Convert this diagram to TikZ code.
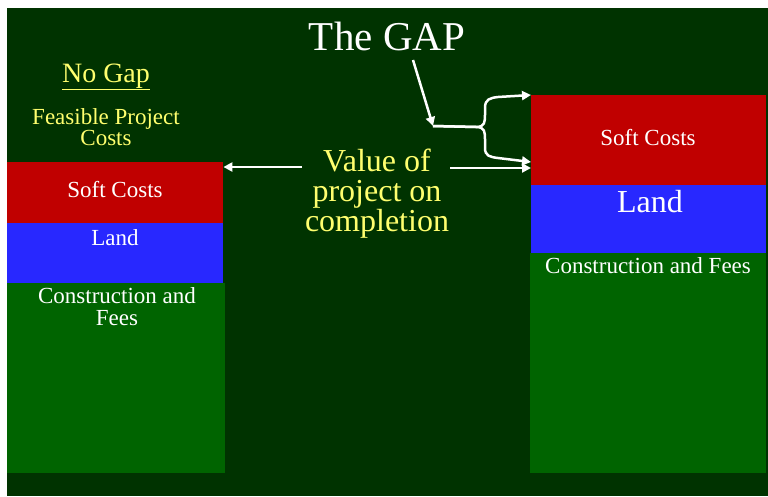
\documentclass[tikz,border=0pt]{standalone}
\usepackage{fontspec}
\setmainfont{Liberation Serif}
\usetikzlibrary{arrows.meta}

\definecolor{bggreen}{RGB}{0,51,0}
\definecolor{softred}{RGB}{192,0,0}
\definecolor{landblue}{RGB}{40,40,255}
\definecolor{buildgreen}{RGB}{0,100,0}
\definecolor{paleyellow}{RGB}{255,255,110}

\tikzset{
  block/.style={inner sep=0pt, anchor=north west},
  txt/.style={text=white, font=\fontsize{23}{22}\selectfont, align=center},
  ytxt/.style={text=paleyellow, font=\fontsize{23}{21}\selectfont, align=center},
  pointer/.style={draw=white, line width=2.5pt, -{Triangle[length=9pt,width=9pt]}},
}

\begin{document}
\begin{tikzpicture}[x=1pt,y=-1pt]
\useasboundingbox (0,0) rectangle (768,496);
\fill[bggreen] (7,8) rectangle (768,496);

\draw (7,162)   node (lsoft)  [block, fill=softred,    minimum width=216pt, minimum height=61pt]  {};
\draw (7,223)   node (lland)  [block, fill=landblue,   minimum width=216pt, minimum height=60pt]  {};
\draw (7,283)   node (lbuild) [block, fill=buildgreen, minimum width=218pt, minimum height=190pt] {};

\draw (531,95)  node (rsoft)  [block, fill=softred,    minimum width=235pt, minimum height=90pt]  {};
\draw (531,185) node (rland)  [block, fill=landblue,   minimum width=235pt, minimum height=68pt]  {};
\draw (530,253) node (rbuild) [block, fill=buildgreen, minimum width=236pt, minimum height=220pt] {};

\draw (115,197) node (lsofttxt)  [txt, anchor=base] {Soft Costs};
\draw (115,245) node (llandtxt)  [txt, anchor=base] {Land};
\draw (117,307) node (lbuildtxt) [txt] {Construction and\\Fees};

\draw (648,145) node (rsofttxt)  [txt, anchor=base] {Soft Costs};
\draw (650,212) node (rlandtxt)  [txt, anchor=base, font=\fontsize{32}{32}\selectfont] {Land};
\draw (648,273) node (rbuildtxt) [txt, anchor=base] {Construction and Fees};

\draw (106,82)  node (nogap)    [ytxt, anchor=base, font=\fontsize{28}{28}\selectfont] {\underline{No Gap}};
\draw (106,127) node (feasible) [ytxt] {Feasible Project\\Costs};
\draw (377,194) node (value)    [ytxt, font=\fontsize{32}{30}\selectfont] {Value of\\project on\\completion};

\draw (387,50)  node (gap) [txt, anchor=base, font=\fontsize{41}{41}\selectfont] {The GAP};

\coordinate (vleft)   at (302,167);
\coordinate (vright)  at (450,168);
\coordinate (gapfoot) at (413,60);
\coordinate (brace)   at (433,126);
\coordinate (lowtip)  at (531,162);

\draw[pointer] (vleft) -- (vleft -| lsoft.east);
\draw[pointer] (vright) -- (vright -| rsoft.west);
\draw[pointer] (gapfoot) -- (brace);

\draw[pointer] (brace) -- (476,127) .. controls (485,127) and (485,122) .. (485,114)
  -- (485,108) .. controls (485,99) and (490,98) .. (498,97) -- (rsoft.north west);
\draw[pointer] (brace) -- (476,127) .. controls (485,127) and (485,132) .. (485,140)
  -- (485,148) .. controls (485,156) and (490,157) .. (498,158) -- (lowtip);
\end{tikzpicture}
\end{document}
